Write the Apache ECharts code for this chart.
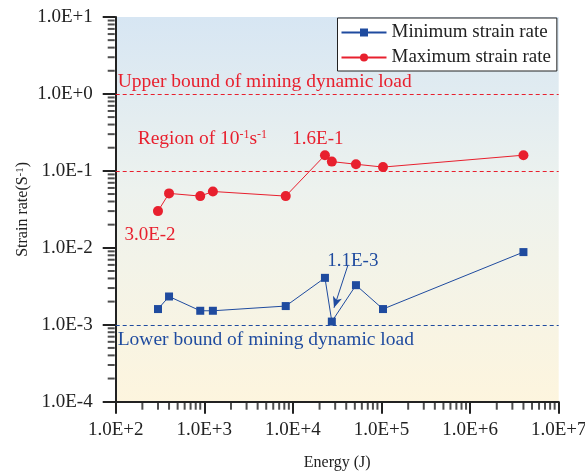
<!DOCTYPE html>
<html>
<head>
<meta charset="utf-8">
<script src="https://cdn.jsdelivr.net/npm/echarts@6/dist/echarts.min.js"></script>
<style>
html, body { margin: 0; padding: 0; background: #ffffff; }
#wrap { position: relative; width: 585px; height: 476px; }
#chart, #ticks { position: absolute; left: 0; top: 0; width: 585px; height: 476px; }
#ticks { pointer-events: none; }
</style>
</head>
<body>
<div id="wrap">
  <div id="chart"></div>
  <div id="ticks"></div>
</div>
<script>
// Impact energy (J) of each test
const energy = [300, 400, 900, 1250, 8300, 23000, 27500, 51500, 104000, 4.0e6];
// Strain rates (s^-1)
const minRate = [0.0016, 0.00233, 0.00152, 0.00152, 0.00175, 0.00407, 0.0011, 0.00327, 0.0016, 0.0088];
const maxRate = [0.030, 0.051, 0.047, 0.054, 0.047, 0.16, 0.132, 0.122, 0.112, 0.16];
// Axis decades
const xDecades = [2, 3, 4, 5, 6, 7];
const yDecades = [-4, -3, -2, -1, 0, 1];
// Reference levels
const upperBound = 1;
const regionLevel = 0.1;
const lowerBound = 0.001;

const FONT = '"Liberation Serif", "Times New Roman", serif';
const RED = '#e8202e';
const BLUE = '#1f4b9f';
const INK = '#222222';
// fixed plot rectangle shared by the chart and its minor-tick layer
const GRID = { left: 115.7, right: 26.3, top: 17, bottom: 74.3, containLabel: false, outerBoundsMode: 'none' };

const expFmt = v => Number(v).toExponential(1).toUpperCase();

// which points carry a value label, and how the label is placed
const maxLabels = { 0: { position: 'bottom', offset: [-8, 4] }, 5: { position: 'top', offset: [-7, 3] } };
const minLabels = { 6: { position: 'top', offset: [21, -42] } };

function buildPoints(xs, ys, labels, color) {
  return xs.map((x, i) => {
    const item = { value: [x, ys[i]] };
    if (labels[i]) {
      item.label = {
        show: true,
        position: labels[i].position,
        offset: labels[i].offset,
        formatter: p => expFmt(p.value[1]),
        color: color,
        fontFamily: FONT,
        fontSize: 19
      };
    }
    return item;
  });
}

const xMin = Math.pow(10, xDecades[0]);
const xMax = Math.pow(10, xDecades[xDecades.length - 1]);
const yMin = Math.pow(10, yDecades[0]);
const yMax = Math.pow(10, yDecades[yDecades.length - 1]);

// Minor tick values 2..9 x 10^k for each decade
const minorValues = decades => {
  const out = [];
  decades.slice(0, -1).forEach(k => {
    for (let m = 2; m <= 9; m++) out.push(m * Math.pow(10, k));
  });
  return out;
};
const xMinorTicks = minorValues(xDecades).map(v => [v, yMin]);
const yMinorTicks = minorValues(yDecades).map(v => [xMin, v]);

const axisCommon = {
  type: 'log',
  logBase: 10,
  splitLine: { show: false },
  axisLine: { show: true, onZero: false, lineStyle: { color: INK, width: 2 } },
  axisTick: { show: true, inside: false, lineStyle: { color: INK, width: 2 } },
  axisLabel: { color: INK, fontFamily: FONT, fontSize: 19, formatter: v => expFmt(v) },
  nameMoveOverlap: false,
  nameTextStyle: { color: INK, fontFamily: FONT, fontSize: 16 }
};

const dashed = color => ({ color: color, width: 1, type: [4, 3] });

const chart = echarts.init(document.getElementById('chart'), null, { renderer: 'canvas' });
chart.setOption({
  animation: false,
  backgroundColor: '#ffffff',
  textStyle: { fontFamily: FONT },
  grid: Object.assign({}, GRID, {
    show: true,
    borderWidth: 0,
    backgroundColor: new echarts.graphic.LinearGradient(0, 0, 0, 1, [
      { offset: 0, color: '#d7e6f3' },
      { offset: 0.45, color: '#edf2ee' },
      { offset: 1, color: '#fdf5de' }
    ])
  }),
  legend: {
    data: ['Minimum strain rate', 'Maximum strain rate'],
    orient: 'vertical',
    left: 337.5,
    top: 18,
    padding: [5, 6, 4, 3],
    itemGap: 6,
    itemWidth: 45,
    itemHeight: 10,
    backgroundColor: '#ffffff',
    borderColor: INK,
    borderWidth: 1,
    textStyle: { color: INK, fontFamily: FONT, fontSize: 19 }
  },
  xAxis: Object.assign({}, axisCommon, {
    min: xMin,
    max: xMax,
    splitNumber: 5,
    axisTick: Object.assign({}, axisCommon.axisTick, { length: 12 }),
    axisLabel: Object.assign({}, axisCommon.axisLabel, { margin: 19 }),
    name: 'Energy (J)',
    nameLocation: 'middle',
    nameGap: 53
  }),
  yAxis: Object.assign({}, axisCommon, {
    min: yMin,
    max: yMax,
    splitNumber: 5,
    axisTick: Object.assign({}, axisCommon.axisTick, { length: 13 }),
    axisLabel: Object.assign({}, axisCommon.axisLabel, { margin: 23 }),
    name: 'Strain rate(S{sup|-1})',
    nameLocation: 'middle',
    nameRotate: 90,
    nameGap: 85,
    nameTextStyle: Object.assign({}, axisCommon.nameTextStyle, {
      rich: { sup: { fontFamily: FONT, fontSize: 11, color: INK, verticalAlign: 'top' } }
    })
  }),
  series: [
    {
      name: 'Minimum strain rate',
      type: 'line',
      data: buildPoints(energy, minRate, minLabels, BLUE),
      symbol: 'rect',
      symbolSize: 8,
      color: BLUE,
      lineStyle: { color: BLUE, width: 1 },
      itemStyle: { color: BLUE },
      z: 5,
      markLine: {
        silent: true,
        animation: false,
        precision: 6,
        symbol: ['none', 'arrow'],
        symbolSize: [7, 11],
        lineStyle: { color: BLUE, width: 1, type: 'solid' },
        label: { show: false },
        data: [
          [ { coord: [41900, 0.00601] }, { coord: [29100, 0.001663] } ]
        ]
      }
    },
    {
      name: 'Maximum strain rate',
      type: 'line',
      data: buildPoints(energy, maxRate, maxLabels, RED),
      symbol: 'circle',
      symbolSize: 10,
      color: RED,
      lineStyle: { color: RED, width: 1 },
      itemStyle: { color: RED },
      z: 5,
      markLine: {
        silent: true,
        symbol: ['none', 'none'],
        animation: false,
        precision: 6,
        lineStyle: dashed(RED),
        data: [
          {
            yAxis: upperBound,
            lineStyle: dashed(RED),
            label: {
              show: true,
              position: 'insideStartTop',
              distance: [2, 2],
              formatter: 'Upper bound of mining dynamic load',
              color: RED, fontFamily: FONT, fontSize: 19.5
            }
          },
          {
            yAxis: regionLevel,
            lineStyle: dashed(RED),
            label: {
              show: true,
              position: 'insideStartTop',
              distance: [22, 22],
              formatter: 'Region of 10{sup|-1}s{sup|-1}',
              color: RED, fontFamily: FONT, fontSize: 19.5,
              rich: { sup: { color: RED, fontFamily: FONT, fontSize: 12, verticalAlign: 'top' } }
            }
          },
          {
            yAxis: lowerBound,
            lineStyle: dashed(BLUE),
            label: {
              show: true,
              position: 'insideStartBottom',
              distance: [2, 5],
              formatter: 'Lower bound of mining dynamic load',
              color: BLUE, fontFamily: FONT, fontSize: 19.5
            }
          }
        ]
      }
    }
  ]
});

// Minor ticks (2..9 x 10^k) drawn on a transparent layer sharing the same grid and log scales
const hiddenAxis = (min, max) => ({
  type: 'log', logBase: 10, min: min, max: max, splitNumber: 5,
  splitLine: { show: false },
  axisLine: { show: false },
  axisTick: { show: false },
  axisLabel: { show: false }
});
const tickChart = echarts.init(document.getElementById('ticks'), null, { renderer: 'canvas' });
tickChart.setOption({
  animation: false,
  grid: Object.assign({}, GRID),
  xAxis: hiddenAxis(xMin, xMax),
  yAxis: hiddenAxis(yMin, yMax),
  series: [
    {
      name: 'xMinor', type: 'scatter', silent: true, clip: false, z: 10,
      data: xMinorTicks,
      symbol: 'rect', symbolSize: [2, 7], symbolOffset: [0, 4.5],
      itemStyle: { color: INK }
    },
    {
      name: 'yMinor', type: 'scatter', silent: true, clip: false, z: 10,
      data: yMinorTicks,
      symbol: 'rect', symbolSize: [7, 2], symbolOffset: [-4.5, 0],
      itemStyle: { color: INK }
    }
  ]
});
</script>
</body>
</html>
